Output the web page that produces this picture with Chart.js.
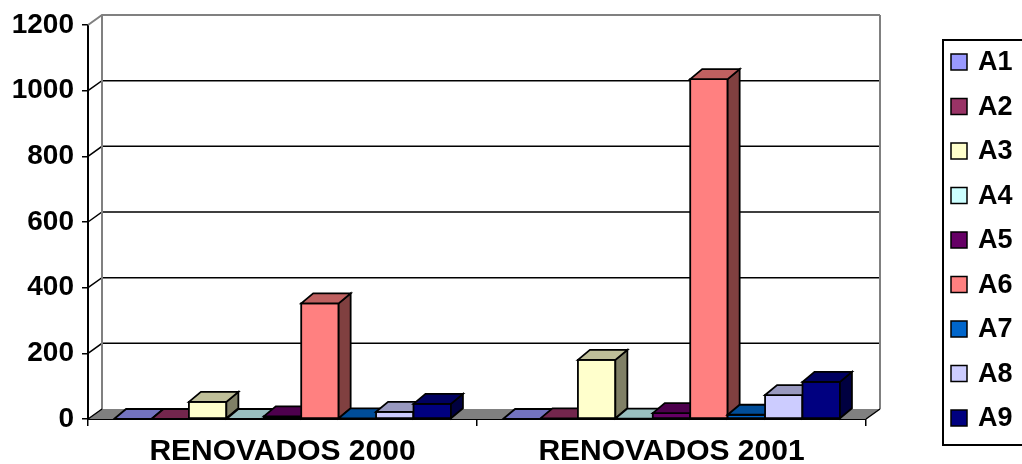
<!DOCTYPE html>
<html>
<head>
<meta charset="utf-8">
<script src="https://cdn.jsdelivr.net/npm/chart.js@4/dist/chart.umd.min.js"></script>
<style>
  html, body { margin: 0; padding: 0; background: #fff; }
  #wrap { width: 1022px; height: 464px; }
</style>
</head>
<body>
<div id="wrap"><canvas id="chart" width="1022" height="464"></canvas></div>
<script>
// categories and series
const categories = ['RENOVADOS 2000', 'RENOVADOS 2001'];
const seriesNames = ['A1', 'A2', 'A3', 'A4', 'A5', 'A6', 'A7', 'A8', 'A9'];
const seriesColors = ['#9999FF', '#993366', '#FFFFCC', '#CCFFFF', '#660066', '#FF8080', '#0066CC', '#CCCCFF', '#000080'];
const a1 = [0, 0];
const a2 = [0, 2];
const a3 = [52, 180];
const a4 = [0, 1];
const a5 = [8, 18];
const a6 = [352, 1035];
const a7 = [2, 13];
const a8 = [22, 73];
const a9 = [46, 113];
const seriesValues = [a1, a2, a3, a4, a5, a6, a7, a8, a9];
const yTicks = [0, 200, 400, 600, 800, 1000, 1200];

const FONT = "'Liberation Sans', Arial, sans-serif";
const DEPTH_X = 14, DEPTH_Y = 10;   // depth of the back wall
const BAR_DX = 12, BAR_DY = 10;     // depth of each column

function shade(hex, f) {
  const n = parseInt(hex.slice(1), 16);
  const r = Math.round(((n >> 16) & 255) * f);
  const g = Math.round(((n >> 8) & 255) * f);
  const b = Math.round((n & 255) * f);
  return 'rgb(' + r + ',' + g + ',' + b + ')';
}

function poly(ctx, pts, fill) {
  ctx.beginPath();
  ctx.moveTo(pts[0][0], pts[0][1]);
  for (let i = 1; i < pts.length; i++) ctx.lineTo(pts[i][0], pts[i][1]);
  ctx.closePath();
  ctx.fillStyle = fill;
  ctx.fill();
  ctx.stroke();
}

// back wall, floor and 3D columns
const threeD = {
  id: 'threeD',
  beforeDatasetsDraw(chart) {
    const ctx = chart.ctx;
    const area = chart.chartArea;
    const y = chart.scales.y;
    const left = area.left, right = area.right;
    const base = y.getPixelForValue(0);
    ctx.save();

    // floor
    ctx.fillStyle = '#808080';
    ctx.beginPath();
    ctx.moveTo(left, base);
    ctx.lineTo(left + DEPTH_X, base - DEPTH_Y);
    ctx.lineTo(right + DEPTH_X, base - DEPTH_Y);
    ctx.lineTo(right, base);
    ctx.closePath();
    ctx.fill();

    // gridlines on back wall
    yTicks.forEach(v => {
      if (v === 0) return;
      const py = y.getPixelForValue(v);
      const top = v === 1200;
      ctx.strokeStyle = top ? '#808080' : '#000';
      ctx.lineWidth = top ? 2 : 1.5;
      ctx.beginPath();
      ctx.moveTo(left, py);
      ctx.lineTo(left + DEPTH_X, py - DEPTH_Y);
      ctx.lineTo(right + DEPTH_X, py - DEPTH_Y);
      ctx.stroke();
    });
    // left and right edges of back wall
    const wallTop = y.getPixelForValue(1200) - DEPTH_Y;
    ctx.strokeStyle = '#808080';
    ctx.lineWidth = 2;
    ctx.beginPath();
    ctx.moveTo(left + DEPTH_X, wallTop);
    ctx.lineTo(left + DEPTH_X, base - DEPTH_Y);
    ctx.moveTo(right + DEPTH_X, wallTop);
    ctx.lineTo(right + DEPTH_X, base - DEPTH_Y);
    ctx.stroke();
    ctx.strokeStyle = '#000';
    ctx.lineWidth = 1.5;
    ctx.beginPath();
    ctx.moveTo(left, base);
    ctx.lineTo(left + DEPTH_X, base - DEPTH_Y);
    ctx.moveTo(right, base);
    ctx.lineTo(right + DEPTH_X, base - DEPTH_Y);
    ctx.stroke();

    // columns, left to right so nearer faces cover farther ones
    ctx.strokeStyle = '#000';
    ctx.lineWidth = 1.8;
    ctx.lineJoin = 'miter';
    const nCat = categories.length;
    for (let c = 0; c < nCat; c++) {
      chart.data.datasets.forEach((ds, i) => {
        const bar = chart.getDatasetMeta(i).data[c];
        const x0 = bar.x - bar.width / 2, x1 = bar.x + bar.width / 2;
        const yt = bar.y, yb = bar.base;
        const col = seriesColors[i];
        if (yb - yt > 0.5) {
          poly(ctx, [[x0, yt], [x1, yt], [x1, yb], [x0, yb]], col);
          poly(ctx, [[x1, yt], [x1 + BAR_DX, yt - BAR_DY], [x1 + BAR_DX, yb - BAR_DY], [x1, yb]], shade(col, 0.5));
        }
        poly(ctx, [[x0, yt], [x0 + BAR_DX, yt - BAR_DY], [x1 + BAR_DX, yt - BAR_DY], [x1, yt]], shade(col, 0.75));
      });
    }
    ctx.restore();
    return false;
  }
};

// boxed legend on the right
const boxLegend = {
  id: 'boxLegend',
  afterDraw(chart) {
    const ctx = chart.ctx;
    ctx.save();
    ctx.strokeStyle = '#000';
    ctx.lineWidth = 2;
    ctx.strokeRect(943, 40, 90, 405);
    ctx.font = 'bold 27px ' + FONT;
    ctx.textBaseline = 'middle';
    ctx.fillStyle = '#000';
    seriesNames.forEach((name, i) => {
      const cy = 62 + i * 44.5;
      ctx.fillStyle = seriesColors[i];
      ctx.fillRect(951, cy - 8, 16, 16);
      ctx.lineWidth = 1.5;
      ctx.strokeStyle = '#000';
      ctx.strokeRect(951, cy - 8, 16, 16);
      ctx.fillStyle = '#000';
      ctx.fillText(name, 978, cy + 1);
    });
    ctx.restore();
  }
};

new Chart(document.getElementById('chart'), {
  type: 'bar',
  data: {
    labels: categories,
    datasets: seriesNames.map((name, i) => ({
      label: name,
      data: seriesValues[i],
      backgroundColor: seriesColors[i],
      borderColor: '#000',
      borderWidth: 1,
      categoryPercentage: 0.866,
      barPercentage: 1
    }))
  },
  options: {
    responsive: false,
    animation: false,
    layout: { padding: { top: 25, right: 156, left: 0, bottom: 0 } },
    plugins: {
      legend: { display: false },
      tooltip: { enabled: false }
    },
    scales: {
      x: {
        afterFit: s => { s.height = 45; },
        grid: { offset: true, drawOnChartArea: false, drawTicks: true, tickLength: 7, color: '#000', lineWidth: 1.5 },
        border: { color: '#000', width: 2 },
        ticks: { color: '#000', font: { family: FONT, size: 30, weight: 'bold' }, padding: 8, maxRotation: 0 }
      },
      y: {
        min: 0,
        max: 1200,
        afterFit: s => { s.width = 88; },
        afterBuildTicks: s => { s.ticks = yTicks.map(v => ({ value: v })); },
        grid: { drawOnChartArea: false, drawTicks: true, tickLength: 6, color: '#000', lineWidth: 1.5 },
        border: { color: '#000', width: 2 },
        ticks: { color: '#000', font: { family: FONT, size: 28, weight: 'bold' }, padding: 8, callback: v => String(v) }
      }
    }
  },
  plugins: [threeD, boxLegend]
});
</script>
</body>
</html>
